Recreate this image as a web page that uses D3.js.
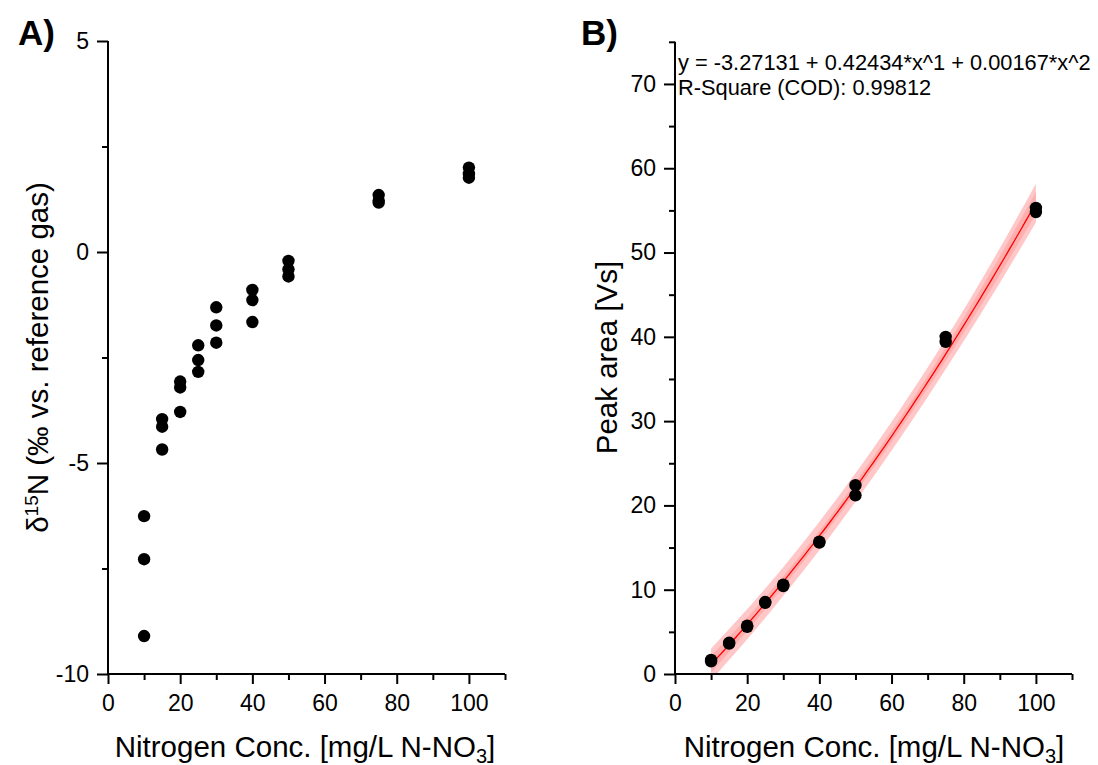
<!DOCTYPE html>
<html>
<head>
<meta charset="utf-8">
<script src="https://cdn.jsdelivr.net/npm/d3@7"></script>
<style>
  body { margin: 0; background: #fff; }
  text { font-family: "Liberation Sans", Arial, sans-serif; fill: #000; }
</style>
</head>
<body>
<svg id="chart" width="1098" height="765"></svg>
<script>
// Panel A: delta 15N vs concentration
const concA = [10, 10, 10, 15, 15, 15, 20, 20, 20, 25, 25, 25, 30, 30, 30,
               40, 40, 40, 50, 50, 50, 75, 75, 75, 100, 100, 100];
const deltaA = [-6.26, -7.28, -9.1, -3.96, -4.14, -4.68, -3.07, -3.21, -3.79,
                -2.21, -2.56, -2.84, -1.31, -1.74, -2.15, -0.9, -1.14, -1.66,
                -0.21, -0.41, -0.58, 1.35, 1.22, 1.17, 2.0, 1.85, 1.76];

// Panel B: peak area vs concentration
const concB = [10, 10, 15, 15, 20, 20, 25, 25, 30, 30, 40, 40, 50, 50, 75, 75, 100, 100];
const areaB = [1.66, 1.5, 3.7, 3.6, 5.73, 5.6, 8.54, 8.45, 10.44, 10.6, 15.7, 15.6,
               22.4, 21.2, 40.0, 39.4, 55.3, 54.8];

// Fit coefficients printed on the chart
const fitCoef = [-3.27131, 0.42434, 0.00167];
// band half-widths (units of Vs)
const bandX = [10, 25, 40, 55, 70, 85, 100];
const bandOuter = [1.9, 1.75, 1.7, 1.7, 1.75, 1.95, 2.3];
const bandInner = [1.0, 0.7, 0.6, 0.65, 0.75, 1.0, 1.3];

const xTicks = [0, 20, 40, 60, 80, 100];
const xMinor = [10, 30, 50, 70, 90, 110];

const svg = d3.select("#chart");

// plain hyphen minus, like the original
const fmt = d => String(d);

function xAxisDraw(g, x, y0) {
  g.append("g")
    .attr("transform", `translate(0,${y0})`)
    .call(d3.axisBottom(x).tickValues(xMinor).tickSize(6).tickSizeOuter(0).tickFormat(""))
    .call(a => a.select(".domain").remove());
  g.append("g")
    .attr("transform", `translate(0,${y0})`)
    .call(d3.axisBottom(x).tickValues(xTicks).tickSize(10).tickSizeOuter(0).tickPadding(11).tickFormat(fmt))
    .call(a => a.select(".domain").remove());
  g.append("line")
    .attr("x1", x.range()[0]).attr("x2", x.range()[1])
    .attr("y1", y0).attr("y2", y0)
    .attr("stroke", "#000").attr("stroke-width", 2);
}

function yAxisDraw(g, y, x0, major, minor) {
  g.append("g")
    .attr("transform", `translate(${x0},0)`)
    .call(d3.axisLeft(y).tickValues(minor).tickSize(6).tickSizeOuter(0).tickFormat(""))
    .call(a => a.select(".domain").remove());
  g.append("g")
    .attr("transform", `translate(${x0},0)`)
    .call(d3.axisLeft(y).tickValues(major).tickSize(11).tickSizeOuter(0).tickPadding(8).tickFormat(fmt))
    .call(a => a.select(".domain").remove());
  g.append("line")
    .attr("x1", x0).attr("x2", x0)
    .attr("y1", y.range()[0]).attr("y2", y.range()[1])
    .attr("stroke", "#000").attr("stroke-width", 2);
}

function styleAxes(g) {
  g.selectAll(".tick line").attr("stroke", "#000").attr("stroke-width", 2);
  g.selectAll(".tick text").style("font-size", "23px").style("font-family", "Liberation Sans, Arial, sans-serif");
}

function xTitle(g, cx) {
  const t = g.append("text")
    .attr("x", cx).attr("y", 757)
    .attr("text-anchor", "middle")
    .style("font-size", "29.5px");
  t.append("tspan").text("Nitrogen Conc. [mg/L N-NO");
  t.append("tspan").text("3").attr("dy", 6).style("font-size", "20px");
  t.append("tspan").text("]").attr("dy", -6);
}

// ----- Panel A -----
const xA = d3.scaleLinear().domain([0, 110]).range([108, 505]);
const yA = d3.scaleLinear().domain([-10, 5]).range([674, 41]);
const gA = svg.append("g");
xAxisDraw(gA, xA, 674);
yAxisDraw(gA, yA, 108, [-10, -5, 0, 5], [-7.5, -2.5, 2.5]);
styleAxes(gA);

gA.selectAll("circle.pt")
  .data(concA.map((c, i) => [c, deltaA[i]]))
  .enter().append("circle")
  .attr("class", "pt")
  .attr("cx", d => xA(d[0]))
  .attr("cy", d => yA(d[1]))
  .attr("r", 6.2)
  .attr("fill", "#000");

const yTitleA = gA.append("text")
  .attr("transform", `translate(48,${(41 + 674) / 2}) rotate(-90)`)
  .attr("text-anchor", "middle")
  .style("font-size", "29.5px");
yTitleA.append("tspan").text("δ");
yTitleA.append("tspan").text("15").attr("dy", -10).style("font-size", "19px");
yTitleA.append("tspan").text("N (‰ vs. reference gas)").attr("dy", 10);
xTitle(gA, 305);

gA.append("text").attr("x", 18).attr("y", 45)
  .style("font-size", "35px").style("font-weight", "bold").text("A)");

// ----- Panel B -----
const xB = d3.scaleLinear().domain([0, 110]).range([675, 1072]);
const yB = d3.scaleLinear().domain([0, 75]).range([674, 41.8]);
const gB = svg.append("g");

const fit = x => fitCoef[0] + fitCoef[1] * x + fitCoef[2] * x * x;
const bandData = bandX.map((x, i) => ({ x, y: fit(x), o: bandOuter[i], n: bandInner[i] }));

const clip = gB.append("clipPath").attr("id", "clipB");
clip.append("rect").attr("x", 675).attr("y", 41).attr("width", 397).attr("height", 633);

const bandG = gB.append("g").attr("clip-path", "url(#clipB)");
bandG.append("path")
  .datum(bandData)
  .attr("fill", "#ff0000").attr("fill-opacity", 0.22)
  .attr("d", d3.area().curve(d3.curveMonotoneX)
    .x(d => xB(d.x)).y0(d => yB(d.y - d.o)).y1(d => yB(d.y + d.o)));
bandG.append("path")
  .datum(bandData)
  .attr("fill", "#ff0000").attr("fill-opacity", 0.12)
  .attr("d", d3.area().curve(d3.curveMonotoneX)
    .x(d => xB(d.x)).y0(d => yB(d.y - d.n)).y1(d => yB(d.y + d.n)));

const fitX = d3.range(10, 100.5, 1);
bandG.append("path")
  .datum(fitX)
  .attr("fill", "none").attr("stroke", "#ff0000").attr("stroke-width", 1.3)
  .attr("d", d3.line().x(d => xB(d)).y(d => yB(fit(d))));

xAxisDraw(gB, xB, 674);
yAxisDraw(gB, yB, 675, [0, 10, 20, 30, 40, 50, 60, 70], [5, 15, 25, 35, 45, 55, 65, 75]);
styleAxes(gB);

gB.selectAll("circle.pt")
  .data(concB.map((c, i) => [c, areaB[i]]))
  .enter().append("circle")
  .attr("class", "pt")
  .attr("cx", d => xB(d[0]))
  .attr("cy", d => yB(d[1]))
  .attr("r", 6.2)
  .attr("fill", "#000");

gB.append("text")
  .attr("transform", `translate(617,${(41 + 674) / 2}) rotate(-90)`)
  .attr("text-anchor", "middle")
  .style("font-size", "29.5px")
  .text("Peak area [Vs]");
xTitle(gB, 874);

gB.append("text").attr("x", 581).attr("y", 45)
  .style("font-size", "35px").style("font-weight", "bold").text("B)");

gB.append("text").attr("x", 678).attr("y", 70)
  .style("font-size", "21.8px").text("y = -3.27131 + 0.42434*x^1 + 0.00167*x^2");
gB.append("text").attr("x", 678).attr("y", 95)
  .style("font-size", "21.8px").text("R-Square (COD): 0.99812");
</script>
</body>
</html>
